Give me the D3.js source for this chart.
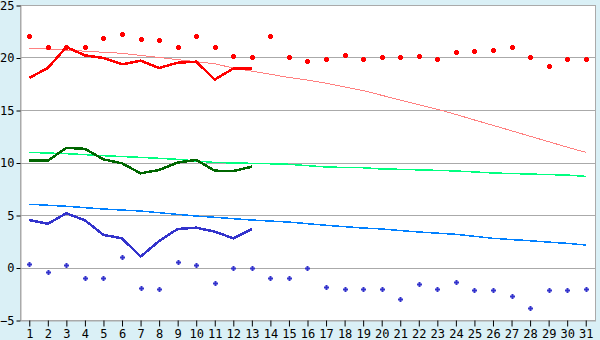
<!DOCTYPE html>
<html><head><meta charset="utf-8">
<script src="https://cdn.jsdelivr.net/npm/d3@7"></script>
<style>
html,body{margin:0;padding:0;background:#daf0f6;}
svg{display:block;}
</style></head>
<body>
<svg id="chart" width="600" height="340"></svg>
<script>
const days = d3.range(1, 32).map(String);
const yTicks = [-5, 0, 5, 10, 15, 20, 25];

// red series
const redMarkers = [22, 21, 21, 21, 21.9, 22.2, 21.8, 21.7, 21, 22, 21, 20.1, 20, 22, 20, 19.7, 19.9, 20.2, 19.9, 20, 20, 20.1, 19.9, 20.5, 20.6, 20.7, 21, 20, 19.2, 19.9, 19.9];
const redLine = [18.05, 19, 21, 20.2, 19.95, 19.35, 19.7, 19, 19.5, 19.6, 17.9, 18.95, 18.95];
const redTrend = [20.9, 20.8, 20.7, 20.6, 20.5, 20.4, 20.2, 20.0, 19.8, 19.6, 19.4, 19.0, 18.7, 18.4, 18.1, 17.85, 17.55, 17.2, 16.85, 16.4, 15.95, 15.5, 15.07, 14.58, 14.05, 13.54, 13.02, 12.5, 11.98, 11.46, 10.97];

// green series
const greenLine = [10.17, 10.17, 11.4, 11.3, 10.3, 9.92, 8.97, 9.29, 10.0, 10.24, 9.22, 9.19, 9.6];
const greenTrend = [10.97, 10.9, 10.84, 10.75, 10.65, 10.57, 10.49, 10.4, 10.3, 10.15, 10.0, 9.96, 9.92, 9.88, 9.83, 9.7, 9.57, 9.53, 9.5, 9.38, 9.35, 9.3, 9.25, 9.19, 9.1, 9.0, 8.95, 8.9, 8.85, 8.8, 8.68];

// blue series
const blueMarkers = [0.33, -0.46, 0.24, -1.03, -1.0, 0.97, -1.98, -2, 0.5, 0.24, -1.5, 0, 0, -1, -1, 0, -1.89, -2, -2, -2, -3.03, -1.6, -2, -1.4, -2.17, -2.17, -2.75, -3.9, -2.17, -2.17, -2];
const blueLine = [4.52, 4.17, 5.16, 4.5, 3.1, 2.78, 1.03, 2.52, 3.67, 3.79, 3.41, 2.78, 3.67];
const blueTrend = [6.02, 5.93, 5.83, 5.7, 5.57, 5.47, 5.38, 5.22, 5.06, 4.9, 4.78, 4.65, 4.52, 4.42, 4.33, 4.17, 4.02, 3.89, 3.76, 3.67, 3.52, 3.38, 3.27, 3.16, 2.97, 2.78, 2.66, 2.55, 2.42, 2.3, 2.14];

const svg = d3.select("#chart");
const mLeft = 20, mRight = 595, mTop = 5, mBottom = 320;

const x = d3.scaleBand().domain(days).range([mLeft, mRight]).padding(0);
const cx = d => x(d) + x.bandwidth() / 2;
const y = d3.scaleLinear().domain([-5, 25]).range([mBottom, mTop]);

svg.append("rect").attr("x", mLeft + 0.5).attr("y", mTop + 0.5)
  .attr("width", mRight - mLeft).attr("height", mBottom - mTop)
  .attr("fill", "#fff").attr("stroke", "#aaaaaa");

// grid
svg.append("g").selectAll("line").data(yTicks.filter(t => t > -5 && t < 25)).join("line")
  .attr("x1", mLeft).attr("x2", mRight)
  .attr("y1", d => Math.round(y(d)) + 0.5).attr("y2", d => Math.round(y(d)) + 0.5)
  .attr("stroke", "#aaaaaa").attr("stroke-width", 1);

// axes
const font = "'DejaVu Sans Mono', monospace";
const ya = svg.append("g").attr("transform", `translate(${mLeft + 0.5},0.5)`)
  .call(d3.axisLeft(y).tickValues(yTicks).tickSize(4).tickSizeOuter(0).tickPadding(2));
ya.select(".domain").attr("stroke", "#aaaaaa");
ya.selectAll(".tick line").attr("stroke", "#000");
ya.selectAll("text").attr("font-family", font).attr("font-size", 12).attr("fill", "#000");

const xa = svg.append("g").attr("transform", `translate(0.5,${mBottom + 0.5})`)
  .call(d3.axisBottom(x).tickSize(6).tickSizeOuter(0).tickPadding(3));
xa.select(".domain").attr("stroke", "#aaaaaa");
xa.selectAll(".tick line").attr("stroke", "#000");
xa.selectAll("text").attr("font-family", font).attr("font-size", 12).attr("fill", "#000");

const line = d3.line().x((d, i) => cx(days[i])).y(d => y(d));

function drawLine(data, color, w) {
  svg.append("path").datum(data).attr("d", line)
    .attr("fill", "none").attr("stroke", color).attr("stroke-width", w)
    .attr("shape-rendering", "crispEdges").attr("stroke-linejoin", "round");
}

drawLine(redTrend, "#ff8080", 1);
drawLine(greenTrend, "#00ff80", 1.5);
drawLine(blueTrend, "#0080ff", 1.5);
drawLine(redLine, "#ff0000", 2.5);
drawLine(greenLine, "#006600", 2.5);
drawLine(blueLine, "#3333cc", 2.5);

function cross(a, b) {
  return `M${-a},${-b}H${a}V${-a}H${b}V${a}H${a}V${b}H${-a}V${a}H${-b}V${-a}H${-a}Z`;
}

svg.append("g").selectAll("path").data(redMarkers).join("path")
  .attr("d", cross(1.5, 2.5))
  .attr("transform", (d, i) => `translate(${Math.round(cx(days[i])) + 0.5},${Math.round(y(d)) + 0.5})`)
  .attr("fill", "#ff0000");

svg.append("g").selectAll("path").data(blueMarkers).join("path")
  .attr("d", cross(1, 2.5))
  .attr("transform", (d, i) => `translate(${Math.round(cx(days[i])) + 0.5},${Math.round(y(d)) + 0.5})`)
  .attr("fill", "#3333cc");
</script>
</body></html>
